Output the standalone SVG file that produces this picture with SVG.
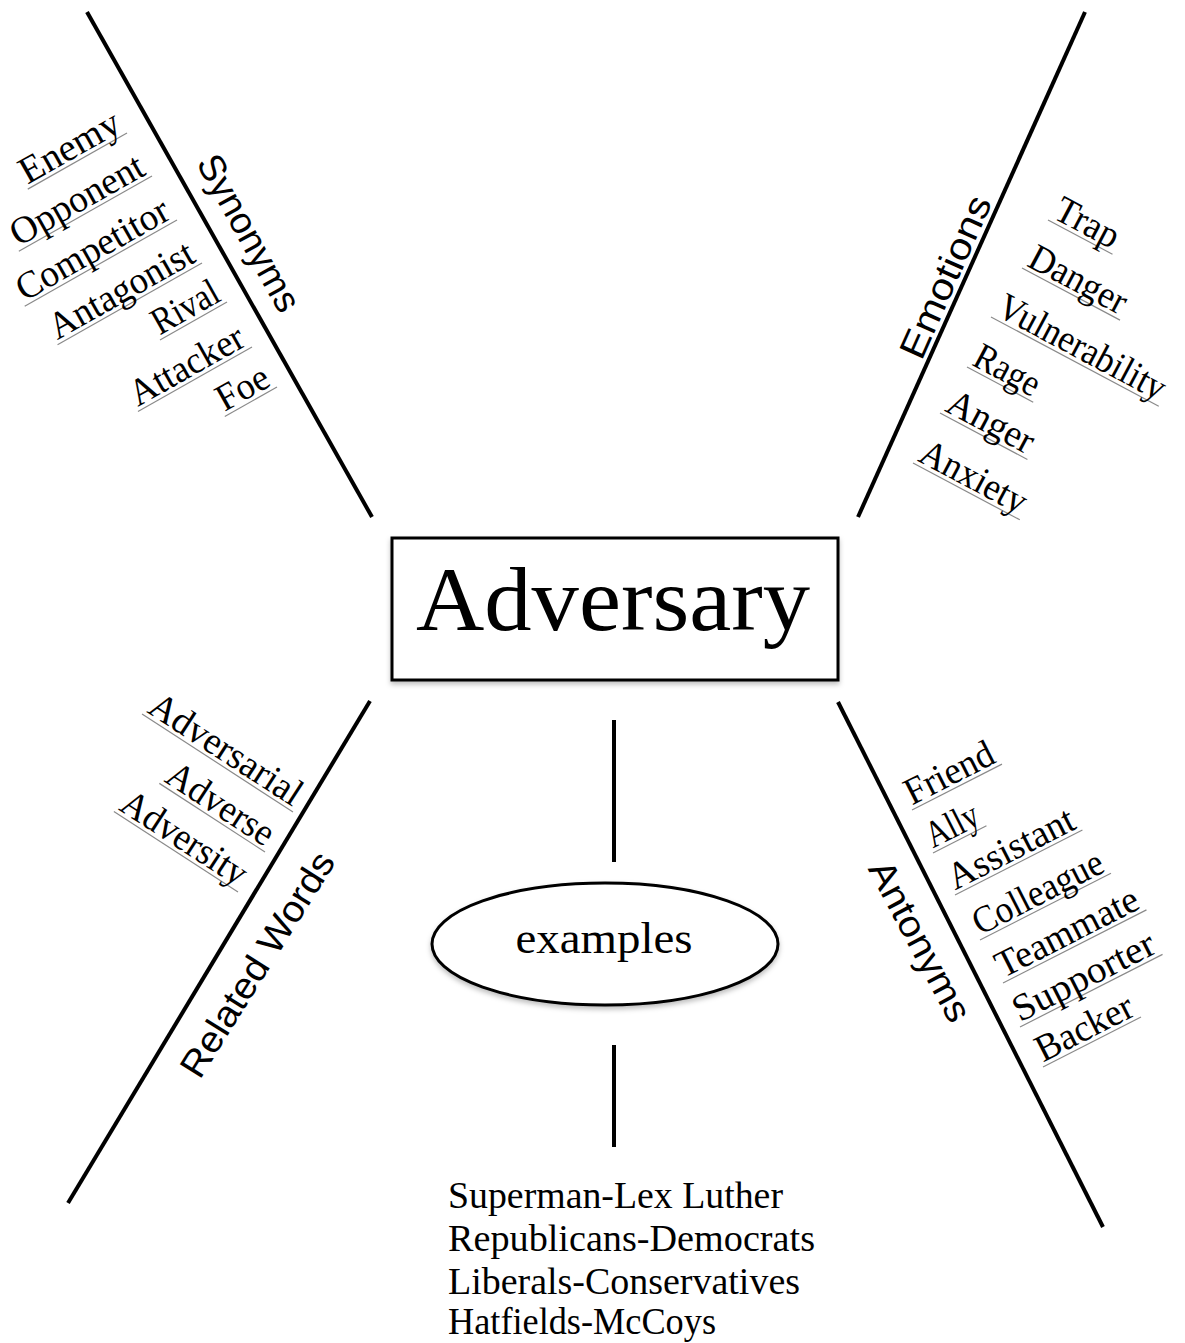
<svg xmlns="http://www.w3.org/2000/svg" width="1185" height="1343" viewBox="0 0 1185 1343">
<style>
.w{font-family:"Liberation Serif","Times New Roman",serif;font-size:38px;fill:#000}
.lbl{font-family:"Liberation Sans",Arial,sans-serif;font-size:37px;fill:#000}
.ul{stroke:#8a8a8a;stroke-width:1.2}
.ln{stroke:#000;stroke-width:4;stroke-linecap:butt;fill:none}
.shape{fill:#fff;stroke:#000;stroke-width:3}
</style>
<defs>
<filter id="sh" x="-10%" y="-10%" width="120%" height="130%">
<feDropShadow dx="0" dy="3" stdDeviation="2.5" flood-color="#000" flood-opacity="0.25"/>
</filter>
</defs>
<rect width="1185" height="1343" fill="#fff"/>

<g id="connectors">
<line class="ln" x1="87" y1="12" x2="372" y2="517"/>
<line class="ln" x1="1085" y1="12" x2="858" y2="517"/>
<line class="ln" x1="370" y1="701" x2="68" y2="1203"/>
<line class="ln" x1="838" y1="702" x2="1103" y2="1227"/>
<line class="ln" x1="614" y1="720" x2="614" y2="862"/>
<line class="ln" x1="614" y1="1045" x2="614" y2="1147"/>
</g>

<g id="center">
<rect class="shape" x="392" y="538" width="446" height="142" filter="url(#sh)"/>
<text x="613" y="630" text-anchor="middle" font-family="Liberation Serif,serif" font-size="90" textLength="394" lengthAdjust="spacingAndGlyphs">Adversary</text>
</g>

<g id="examples">
<ellipse class="shape" cx="605" cy="944" rx="173" ry="61" filter="url(#sh)"/>
<text x="604" y="953" text-anchor="middle" font-family="Liberation Serif,serif" font-size="44" textLength="177" lengthAdjust="spacingAndGlyphs">examples</text>
</g>

<g id="example-list" class="w">
<text x="448" y="1208" textLength="335" lengthAdjust="spacingAndGlyphs">Superman-Lex Luther</text>
<text x="448" y="1251" textLength="367" lengthAdjust="spacingAndGlyphs">Republicans-Democrats</text>
<text x="448" y="1294" textLength="352" lengthAdjust="spacingAndGlyphs">Liberals-Conservatives</text>
<text x="448" y="1334" textLength="268" lengthAdjust="spacingAndGlyphs">Hatfields-McCoys</text>
</g>

<g id="synonyms">
<text class="lbl" transform="translate(238,239) rotate(61)" text-anchor="middle" textLength="174" lengthAdjust="spacingAndGlyphs">Synonyms</text>
<g transform="translate(127,133) rotate(-29.5)"><line class="ul" x1="-114" y1="0" x2="0" y2="0"/><text class="w" x="-112" y="-4" textLength="110" lengthAdjust="spacingAndGlyphs">Enemy</text></g>
<g transform="translate(152,176) rotate(-29.5)"><line class="ul" x1="-153" y1="0" x2="0" y2="0"/><text class="w" x="-151" y="-4" textLength="148" lengthAdjust="spacingAndGlyphs">Opponent</text></g>
<g transform="translate(177,220) rotate(-29.5)"><line class="ul" x1="-175" y1="0" x2="0" y2="0"/><text class="w" x="-173" y="-4" textLength="170" lengthAdjust="spacingAndGlyphs">Competitor</text></g>
<g transform="translate(202,263) rotate(-29.5)"><line class="ul" x1="-166" y1="0" x2="0" y2="0"/><text class="w" x="-164" y="-4" textLength="161" lengthAdjust="spacingAndGlyphs">Antagonist</text></g>
<g transform="translate(227,302) rotate(-29.5)"><line class="ul" x1="-77" y1="0" x2="0" y2="0"/><text class="w" x="-75" y="-4" textLength="72" lengthAdjust="spacingAndGlyphs">Rival</text></g>
<g transform="translate(252,347) rotate(-29.5)"><line class="ul" x1="-131" y1="0" x2="0" y2="0"/><text class="w" x="-129" y="-4" textLength="126" lengthAdjust="spacingAndGlyphs">Attacker</text></g>
<g transform="translate(277,387) rotate(-29.5)"><line class="ul" x1="-60" y1="0" x2="0" y2="0"/><text class="w" x="-58" y="-4" textLength="55" lengthAdjust="spacingAndGlyphs">Foe</text></g>
</g>

<g id="emotions">
<text class="lbl" transform="translate(957,282) rotate(-66)" text-anchor="middle" textLength="174" lengthAdjust="spacingAndGlyphs">Emotions</text>
<g transform="translate(1048,220) rotate(28)"><line class="ul" x1="0" y1="0" x2="73" y2="0"/><text class="w" x="2" y="-4" textLength="68" lengthAdjust="spacingAndGlyphs">Trap</text></g>
<g transform="translate(1022,268) rotate(28)"><line class="ul" x1="0" y1="0" x2="111" y2="0"/><text class="w" x="2" y="-4" textLength="106" lengthAdjust="spacingAndGlyphs">Danger</text></g>
<g transform="translate(991,317) rotate(28)"><line class="ul" x1="0" y1="0" x2="190" y2="0"/><text class="w" x="2" y="-4" font-size="36" textLength="185" lengthAdjust="spacingAndGlyphs">Vulnerability</text></g>
<g transform="translate(967,367) rotate(28)"><line class="ul" x1="0" y1="0" x2="75" y2="0"/><text class="w" x="2" y="-4" textLength="70" lengthAdjust="spacingAndGlyphs">Rage</text></g>
<g transform="translate(940,413) rotate(28)"><line class="ul" x1="0" y1="0" x2="99" y2="0"/><text class="w" x="2" y="-4" textLength="94" lengthAdjust="spacingAndGlyphs">Anger</text></g>
<g transform="translate(913,463) rotate(28)"><line class="ul" x1="0" y1="0" x2="121" y2="0"/><text class="w" x="2" y="-4" textLength="116" lengthAdjust="spacingAndGlyphs">Anxiety</text></g>
</g>

<g id="related-words">
<text class="lbl" transform="translate(268,971) rotate(-58)" text-anchor="middle" textLength="258" lengthAdjust="spacingAndGlyphs">Related Words</text>
<g transform="translate(293,812) rotate(33)"><line class="ul" x1="-180" y1="0" x2="0" y2="0"/><text class="w" x="-178" y="-4" textLength="175" lengthAdjust="spacingAndGlyphs">Adversarial</text></g>
<g transform="translate(265,852) rotate(33)"><line class="ul" x1="-126" y1="0" x2="0" y2="0"/><text class="w" x="-124" y="-4" textLength="121" lengthAdjust="spacingAndGlyphs">Adverse</text></g>
<g transform="translate(238,892) rotate(33)"><line class="ul" x1="-148" y1="0" x2="0" y2="0"/><text class="w" x="-146" y="-4" textLength="143" lengthAdjust="spacingAndGlyphs">Adversity</text></g>
</g>

<g id="antonyms">
<text class="lbl" transform="translate(909,947) rotate(62)" text-anchor="middle" textLength="177" lengthAdjust="spacingAndGlyphs">Antonyms</text>
<g transform="translate(912,810) rotate(-27)"><line class="ul" x1="0" y1="0" x2="101" y2="0"/><text class="w" x="2" y="-4" textLength="96" lengthAdjust="spacingAndGlyphs">Friend</text></g>
<g transform="translate(933,853) rotate(-27)"><line class="ul" x1="0" y1="0" x2="60" y2="0"/><text class="w" x="2" y="-4" textLength="55" lengthAdjust="spacingAndGlyphs">Ally</text></g>
<g transform="translate(955,895) rotate(-27)"><line class="ul" x1="0" y1="0" x2="143" y2="0"/><text class="w" x="2" y="-4" textLength="138" lengthAdjust="spacingAndGlyphs">Assistant</text></g>
<g transform="translate(980,940) rotate(-27)"><line class="ul" x1="0" y1="0" x2="147" y2="0"/><text class="w" x="2" y="-4" textLength="142" lengthAdjust="spacingAndGlyphs">Colleague</text></g>
<g transform="translate(1003,983) rotate(-27)"><line class="ul" x1="0" y1="0" x2="161" y2="0"/><text class="w" x="2" y="-4" textLength="156" lengthAdjust="spacingAndGlyphs">Teammate</text></g>
<g transform="translate(1020,1027) rotate(-27)"><line class="ul" x1="0" y1="0" x2="160" y2="0"/><text class="w" x="2" y="-4" textLength="155" lengthAdjust="spacingAndGlyphs">Supporter</text></g>
<g transform="translate(1043,1067) rotate(-27)"><line class="ul" x1="0" y1="0" x2="110" y2="0"/><text class="w" x="2" y="-4" textLength="105" lengthAdjust="spacingAndGlyphs">Backer</text></g>
</g>
</svg>
